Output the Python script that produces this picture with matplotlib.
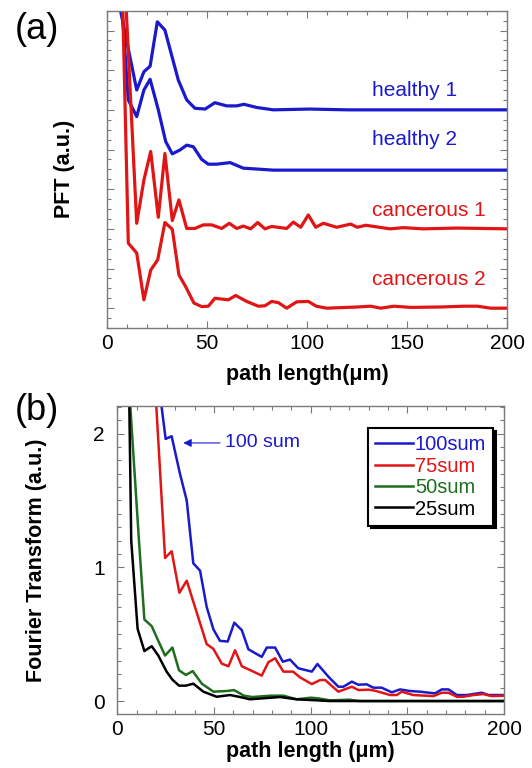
import matplotlib
matplotlib.use("Agg")
import matplotlib.pyplot as plt
from matplotlib.ticker import MultipleLocator

plt.rcParams['font.family'] = ['Liberation Sans', 'DejaVu Sans']

BLUE = '#1a1acc'
RED = '#e01515'
GREEN = '#1e6e1e'
BLACK = '#000000'
GRAY = '#7a7a7a'

# ---- panel (a): PFT curves, offset vertically ----
healthy1_x = [5, 14.7, 18.3, 21.4, 25, 28.8, 35.5, 39.7, 43.8, 48.9, 53.8, 59.7, 64.7,
              68.3, 74.7, 83, 101.3, 120, 200]
healthy1_y = [7.9, 5.5, 5.96, 6.1, 7.22, 7.01, 5.75, 5.25, 5.04, 5.02, 5.18, 5.1, 5.1,
              5.14, 5.06, 5.0, 5.02, 5.0, 5.0]

healthy2_x = [6, 10.5, 14.7, 18.3, 21.4, 25.5, 29.2, 32.5, 36.4, 39.7, 43, 47.2, 50.5,
              54.7, 61.4, 68, 83, 200]
healthy2_y = [8.5, 5.25, 4.83, 5.5, 5.77, 5.0, 4.2, 3.89, 3.99, 4.11, 4.07, 3.75, 3.63,
              3.63, 3.67, 3.53, 3.48, 3.48]

cancer1_x = [9, 14.7, 18.3, 21.7, 25.5, 28.8, 32.5, 35.8, 39.7, 43.8, 48, 52.2, 57.2, 61,
             64.7, 68, 71.7, 75.2, 78.8, 82.2, 89.7, 93, 96.7, 100.5, 104.2, 108, 114.7,
             121.7, 125, 129.3, 141.3, 148, 158, 175, 200]
cancer1_y = [8.0, 2.14, 3.23, 3.95, 2.29, 3.9, 2.21, 2.73, 2.01, 2.01, 2.1, 2.1, 2.01, 2.14,
             2.01, 2.07, 2.0, 2.16, 2.0, 2.06, 2.01, 2.17, 2.04, 2.35, 2.04, 2.14, 2.04,
             2.12, 2.04, 2.09, 2.0, 2.03, 2.0, 2.02, 2.0]

cancer2_x = [7.3, 10.5, 14.7, 18.3, 21.7, 25.2, 28.8, 32.5, 35.8, 39.2, 43.3, 47.2, 50.5,
             53.8, 60.5, 64.2, 69.7, 75.5, 78.8, 82.2, 85.5, 89.7, 94.7, 100.5, 104.5,
             109.7, 125, 131.7, 136.7, 143.3, 151.7, 166.7, 178.3, 185, 191.7, 200]
cancer2_y = [8.5, 1.64, 1.39, 0.21, 0.96, 1.22, 2.16, 1.99, 0.84, 0.54, 0.13, 0.04, 0.05,
             0.25, 0.21, 0.32, 0.17, 0.05, 0.06, 0.17, 0.14, 0.0, 0.16, 0.17, 0.05,
             0.0, 0.03, 0.05, 0.0, 0.05, 0.02, 0.03, 0.05, 0.05, 0.0, 0.0]

labels_a = ['healthy 1', 'healthy 2', 'cancerous 1', 'cancerous 2']
label_a_y = [5.5, 4.24, 2.46, 0.73]

# ---- panel (b): Fourier transform of summed signals ----
sum100_x = [14.4, 18, 21.6, 25, 28.1, 32.4, 35.9, 39.3, 42.8, 46.2, 49.7, 53.1, 57.1, 60.5,
            64.4, 67.8, 74.7, 77.3, 81.6, 85.6, 89.3, 93.6, 100.6, 103.5, 109.2, 114.3,
            116.9, 121.3, 124.7, 129, 132.4, 136.7, 142, 146.2, 151.4, 156.5, 164.3,
            167.8, 171.3, 175.6, 180.8, 188.5, 192, 200]
sum100_y = [4.0, 3.0, 2.35, 1.96, 1.98, 1.70, 1.50, 1.03, 0.975, 0.705, 0.536, 0.45, 0.445,
            0.586, 0.53, 0.387, 0.33, 0.40, 0.40, 0.294, 0.31, 0.245, 0.22, 0.277, 0.182,
            0.107, 0.107, 0.145, 0.122, 0.125, 0.1, 0.1, 0.065, 0.087, 0.075, 0.07, 0.057,
            0.087, 0.087, 0.045, 0.045, 0.062, 0.045, 0.045]

sum75_x = [17, 24.7, 28.1, 32.1, 35.9, 46.2, 49.7, 54, 57.5, 60.9, 64.4, 70.4, 74.7, 78.1,
           81.6, 85.9, 90.9, 94.5, 100.6, 104.9, 107.5, 114.3, 121.3, 124.7, 130, 133.4,
           141.1, 144.5, 147.1, 153, 163.5, 167.8, 171.3, 175.6, 179, 184.3, 189.3, 193.6, 200]
sum75_y = [3.0, 1.07, 1.12, 0.81, 0.9, 0.426, 0.39, 0.28, 0.26, 0.38, 0.26, 0.22, 0.19, 0.29,
           0.32, 0.22, 0.22, 0.177, 0.127, 0.157, 0.157, 0.07, 0.107, 0.082, 0.085, 0.077,
           0.045, 0.045, 0.07, 0.045, 0.037, 0.062, 0.062, 0.032, 0.032, 0.045, 0.052,
           0.037, 0.04]

sum50_x = [3.6, 11.2, 14, 17.8, 21.2, 24.7, 28.5, 31.9, 35.5, 39, 43.7, 49.7, 56.6, 60.4,
           65.5, 69.8, 79.3, 85.9, 92.8, 100, 104, 110, 120, 125, 200]
sum50_y = [2.9, 1.2, 0.61, 0.56, 0.45, 0.34, 0.40, 0.23, 0.195, 0.224, 0.13, 0.07, 0.075,
           0.082, 0.04, 0.03, 0.04, 0.04, 0.013, 0.025, 0.02, 0.005, 0.01, 0.0, 0.0]

sum25_x = [3.5, 7.2, 10.5, 14, 17.8, 21.2, 25.5, 28.5, 31.9, 35.5, 39.3, 44.5, 51.4, 58.3,
           63.5, 68.6, 84.2, 92.8, 110, 200]
sum25_y = [5.0, 1.2, 0.54, 0.374, 0.41, 0.34, 0.22, 0.16, 0.115, 0.115, 0.13, 0.07, 0.032,
           0.045, 0.03, 0.013, 0.03, 0.013, 0.0, 0.0]

legend_b = ['100sum', '75sum', '50sum', '25sum']


def style_axes(ax):
    for s in ax.spines.values():
        s.set_color(GRAY)
        s.set_linewidth(1.0)
    ax.tick_params(which='both', direction='in', top=True, right=True, color=GRAY,
                   width=0.8, labelsize=15, pad=4)
    ax.tick_params(which='major', length=5)
    ax.tick_params(which='minor', length=2.8)


fig = plt.figure(figsize=(5.32, 7.68), dpi=100)

# panel (a)
ax1 = fig.add_axes([0.2017, 0.5729, 0.7519, 0.4132])
ax1.plot(healthy1_x, healthy1_y, color=BLUE, lw=2.3)
ax1.plot(healthy2_x, healthy2_y, color=BLUE, lw=2.3)
ax1.plot(cancer1_x, cancer1_y, color=RED, lw=2.3)
ax1.plot(cancer2_x, cancer2_y, color=RED, lw=2.3)
for lab, yy, c in zip(labels_a, label_a_y, [BLUE, BLUE, RED, RED]):
    ax1.text(132.2, yy, lab, color=c, fontsize=15, ha='left', va='center')
ax1.set_xlim(0, 200)
ax1.set_ylim(-0.5, 7.5)
ax1.xaxis.set_major_locator(MultipleLocator(50))
ax1.xaxis.set_minor_locator(MultipleLocator(10))
ax1.yaxis.set_major_locator(MultipleLocator(1))
ax1.yaxis.set_minor_locator(MultipleLocator(0.25))
ax1.set_yticklabels([])
style_axes(ax1)
ax1.set_xlabel('path length(\u03bcm)', fontsize=15.5, fontweight='bold', labelpad=8)
ax1.set_ylabel('PFT (a.u.)', fontsize=15.5, fontweight='bold', labelpad=19)
fig.text(0.07, 0.961, '(a)', fontsize=26, ha='center', va='center')

# panel (b)
ax2 = fig.add_axes([0.2205, 0.0703, 0.7269, 0.401])
ax2.plot(sum100_x, sum100_y, color=BLUE, lw=1.8, label=legend_b[0])
ax2.plot(sum75_x, sum75_y, color=RED, lw=1.8, label=legend_b[1])
ax2.plot(sum50_x, sum50_y, color=GREEN, lw=1.8, label=legend_b[2])
ax2.plot(sum25_x, sum25_y, color=BLACK, lw=1.8, label=legend_b[3])
ax2.annotate('', xy=(34.1, 1.93), xytext=(53.1, 1.93),
             arrowprops=dict(arrowstyle='-|>', color=BLUE, lw=0.8, mutation_scale=12,
                             shrinkA=0, shrinkB=0))
ax2.text(55.7, 1.93, '100 sum', color=BLUE, fontsize=14, ha='left', va='center')
ax2.set_xlim(0, 200)
ax2.set_ylim(-0.097, 2.206)
ax2.xaxis.set_major_locator(MultipleLocator(50))
ax2.xaxis.set_minor_locator(MultipleLocator(10))
ax2.yaxis.set_major_locator(MultipleLocator(1))
ax2.yaxis.set_minor_locator(MultipleLocator(0.1))
style_axes(ax2)
ax2.tick_params(axis='y', which='both', pad=9)
ax2.set_xlabel('path length (\u03bcm)', fontsize=15.5, fontweight='bold', labelpad=2)
ax2.set_ylabel('Fourier Transform (a.u.)', fontsize=15.5, fontweight='bold', labelpad=33)
leg = ax2.legend(loc='upper right', bbox_to_anchor=(0.972, 0.928), borderaxespad=0,
                 fontsize=14.5, handlelength=1.85, handletextpad=0.1, labelspacing=0.12,
                 borderpad=0.35, fancybox=False, edgecolor='black', framealpha=1,
                 labelcolor='linecolor', shadow={'color': 'black', 'alpha': 1})
leg.get_frame().set_linewidth(1.5)
for h in leg.get_lines():
    h.set_linewidth(1.8)
fig.text(0.07, 0.466, '(b)', fontsize=26, ha='center', va='center')

fig.savefig('out.png', dpi=100)
